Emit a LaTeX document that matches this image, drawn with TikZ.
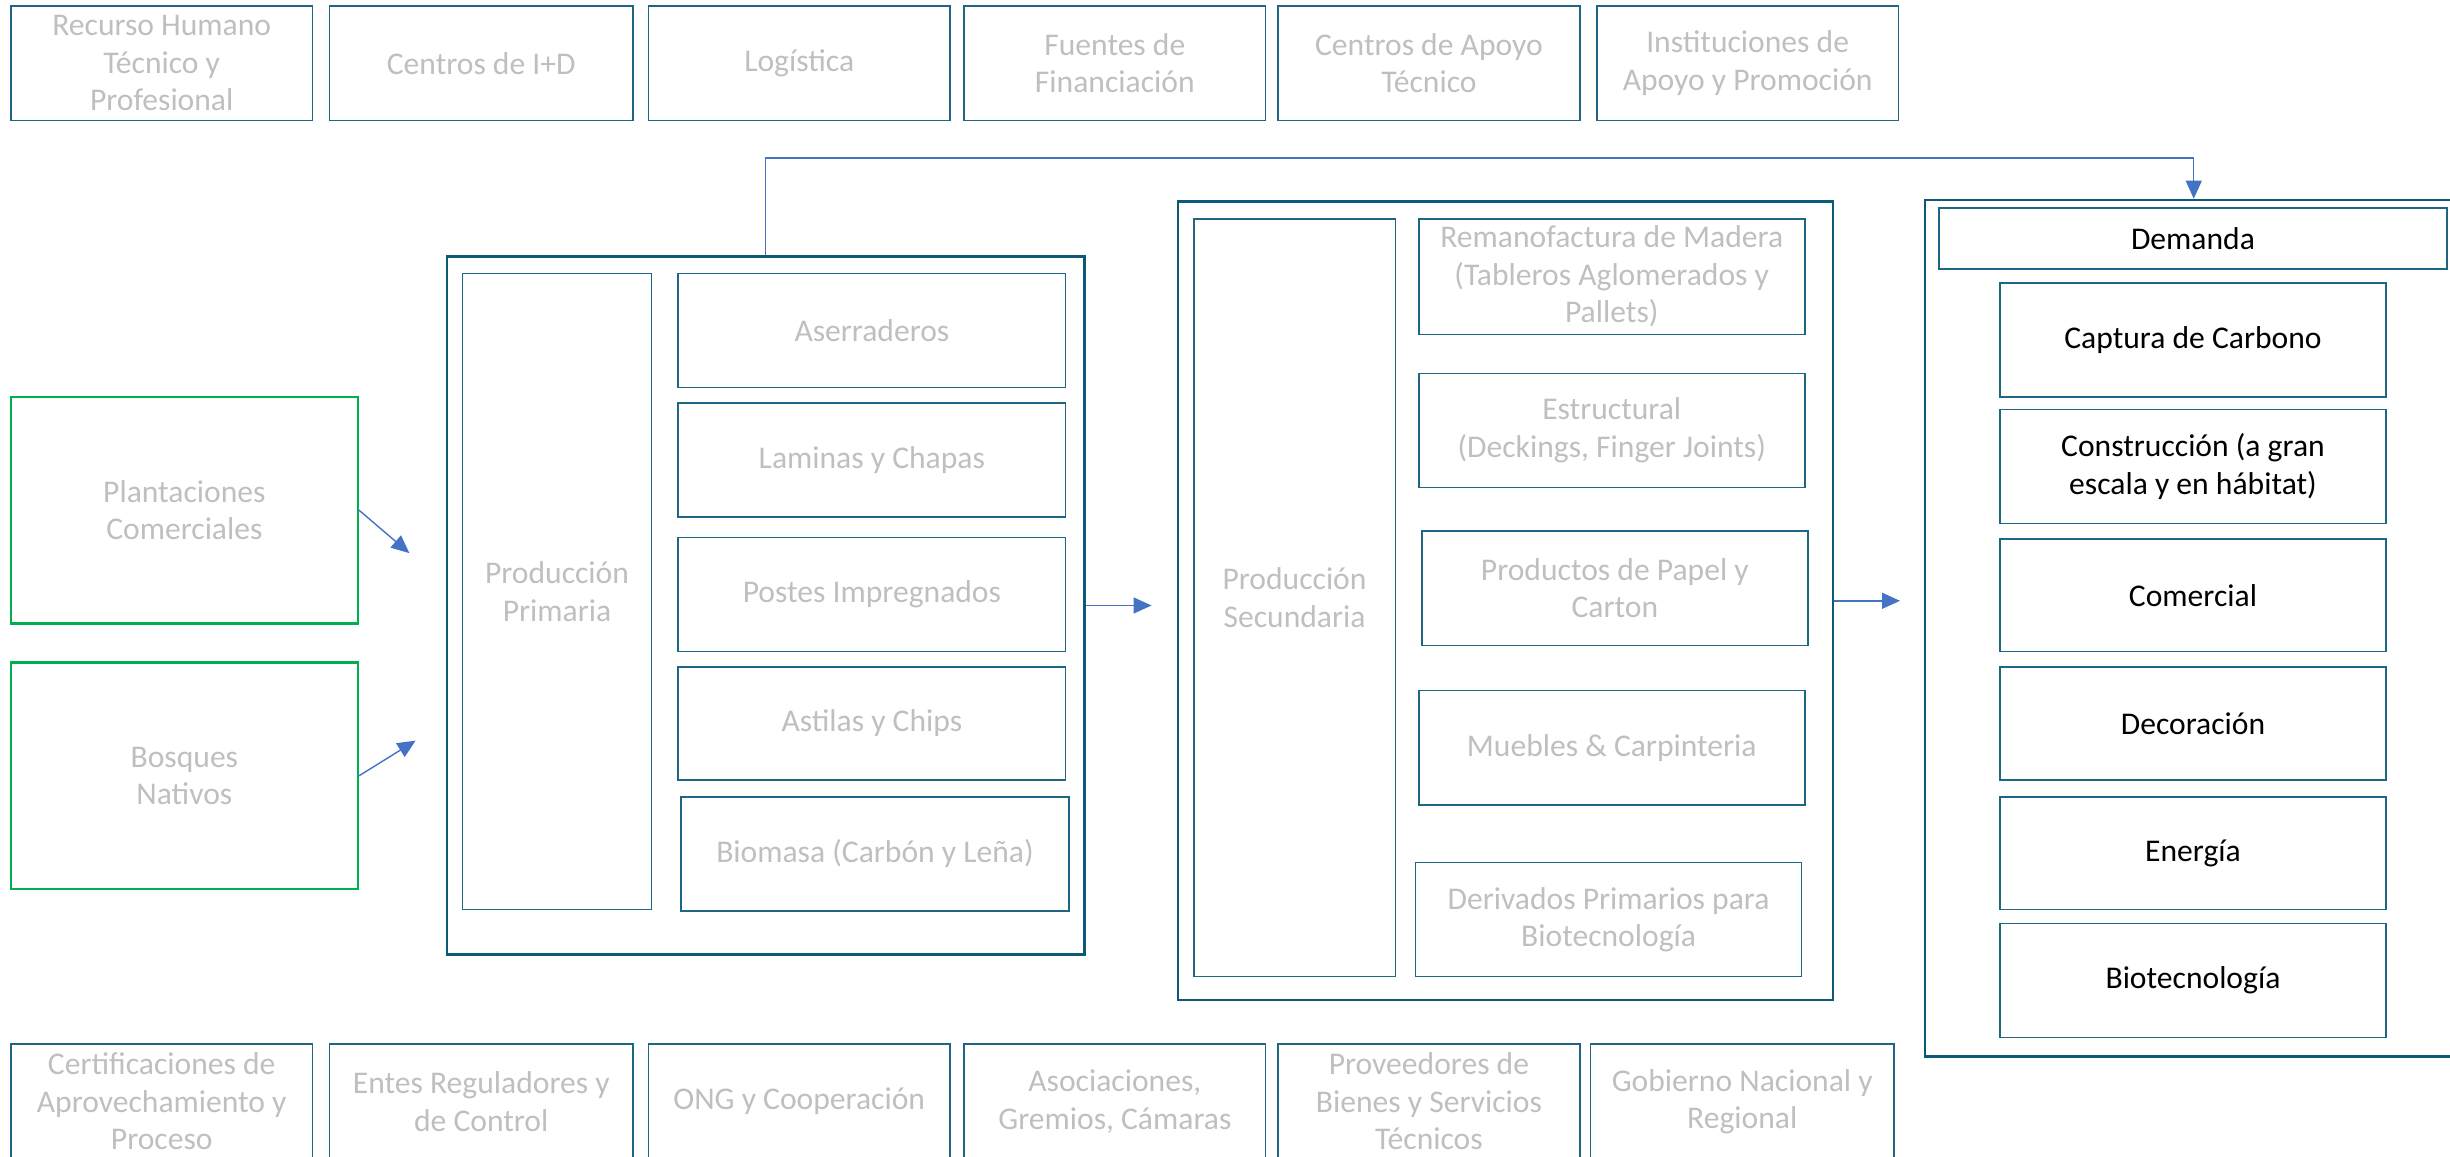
\documentclass[tikz,border=0pt]{standalone}
\usepackage{fontspec}
\setmainfont{Carlito}
\usetikzlibrary{arrows.meta}
\definecolor{tealb}{RGB}{30,102,130}
\definecolor{tealo}{RGB}{12,90,118}
\definecolor{txtg}{RGB}{191,191,191}
\definecolor{grn}{RGB}{0,176,80}
\definecolor{arrb}{RGB}{68,114,196}
\newcommand\bx[7]{\node[#6, minimum width={(#4-#2)*0.78125pt}, minimum height={(#5-#3)*0.78125pt}] (#1) at ({(#2+#4)/2},{(#3+#5)/2}) {#7};}
\tikzset{
  basebox/.style={draw, rectangle, inner sep=0pt, align=center, font=\fontsize{15.8}{18.75}\selectfont},
  gbox/.style={basebox, draw=tealb, line width=0.8pt, text=txtg},
  obox/.style={basebox, draw=tealo, line width=1.3pt},
  greenbox/.style={basebox, draw=grn, line width=1.2pt, text=txtg},
  kbox/.style={basebox, draw=tealb, line width=0.8pt, text=black},
  conn/.style={draw=arrb, line width=0.7pt, -{Triangle[length=9pt,width=8pt]}},
}
\begin{document}
\begin{tikzpicture}[x=0.78125pt, y=-0.78125pt]
\useasboundingbox (0,0) rectangle (1568,740);
\clip (0,0) rectangle (1568,740);
% top row
\bx{t1}{7}{4}{200}{77}{gbox}{Recurso Humano\\Técnico y\\Profesional}
\bx{t2}{211}{4}{405}{77}{gbox}{Centros de I+D}
\bx{t3}{415}{4}{608}{77}{gbox}{Logística}
\bx{t4}{617}{4}{810}{77}{gbox}{Fuentes de\\Financiación}
\bx{t5}{818}{4}{1011}{77}{gbox}{Centros de Apoyo\\Técnico}
\bx{t6}{1022}{4}{1215}{77}{gbox}{Instituciones de\\Apoyo y Promoción}
% bottom row
\bx{b1}{7}{668}{200}{742}{gbox}{Certificaciones de\\Aprovechamiento y\\Proceso}
\bx{b2}{211}{668}{405}{742}{gbox}{Entes Reguladores y\\de Control}
\bx{b3}{415}{668}{608}{742}{gbox}{ONG y Cooperación}
\bx{b4}{617}{668}{810}{742}{gbox}{Asociaciones,\\Gremios, Cámaras}
\bx{b5}{818}{668}{1011}{742}{gbox}{Proveedores de\\Bienes y Servicios\\Técnicos}
\bx{b6}{1018}{668}{1212}{742}{gbox}{Gobierno Nacional y\\Regional}
% sources
\bx{plant}{7}{254}{229}{399}{greenbox}{Plantaciones\\Comerciales}
\bx{bosq}{7}{424}{229}{569}{greenbox}{Bosques\\Nativos}
% primary
\bx{prim}{286}{164}{694}{611}{obox}{}
\bx{primL}{296}{175}{417}{582}{gbox}{Producción\\Primaria}
\bx{p1}{434}{175}{682}{248}{gbox}{Aserraderos}
\bx{p2}{434}{258}{682}{331}{gbox}{Laminas y Chapas}
\bx{p3}{434}{344}{682}{417}{gbox}{Postes Impregnados}
\bx{p4}{434}{427}{682}{499}{gbox}{Astilas y Chips}
\bx{p5}{436}{510}{684}{583}{gbox}{Biomasa (Carbón y Leña)}
% secondary
\bx{sec}{754}{129}{1173}{640}{obox}{}
\bx{secL}{764}{140}{893}{625}{gbox}{Producción\\Secundaria}
\bx{s1}{908}{140}{1155}{214}{gbox}{Remanofactura de Madera\\(Tableros Aglomerados y\\Pallets)}
\bx{s2}{908}{239}{1155}{312}{gbox}{Estructural\\(Deckings, Finger Joints)}
\bx{s3}{910}{340}{1157}{413}{gbox}{Productos de Papel y\\Carton}
\bx{s4}{908}{442}{1155}{515}{gbox}{Muebles \& Carpinteria}
\bx{s5}{906}{552}{1153}{625}{gbox}{Derivados Primarios para\\Biotecnología}
% demand
\bx{dem}{1232}{128}{1576}{676}{obox}{}
\bx{demH}{1241}{133}{1566}{172}{kbox}{Demanda}
\bx{d1}{1280}{181}{1527}{254}{kbox}{Captura de Carbono}
\bx{d2}{1280}{262}{1527}{335}{kbox}{Construcción (a gran\\escala y en hábitat)}
\bx{d3}{1280}{345}{1527}{417}{kbox}{Comercial}
\bx{d4}{1280}{427}{1527}{499}{kbox}{Decoración}
\bx{d5}{1280}{510}{1527}{582}{kbox}{Energía}
\bx{d6}{1280}{591}{1527}{664}{kbox}{Biotecnología}
% connectors
\coordinate (a1) at (262,354);
\coordinate (a2) at (266,474);
\coordinate (a3) at (737,387);
\coordinate (a4) at (1216,384);
\draw[conn] (plant.east) -- (a1);
\draw[conn] (bosq.east) -- (a2);
\draw[conn] (prim.east) -- (prim.east -| a3);
\draw[conn] (sec.east) -- (sec.east -| a4);
\draw[conn] (prim.north) -- ++(0,-62) -| (dem.north);
\end{tikzpicture}
\end{document}
